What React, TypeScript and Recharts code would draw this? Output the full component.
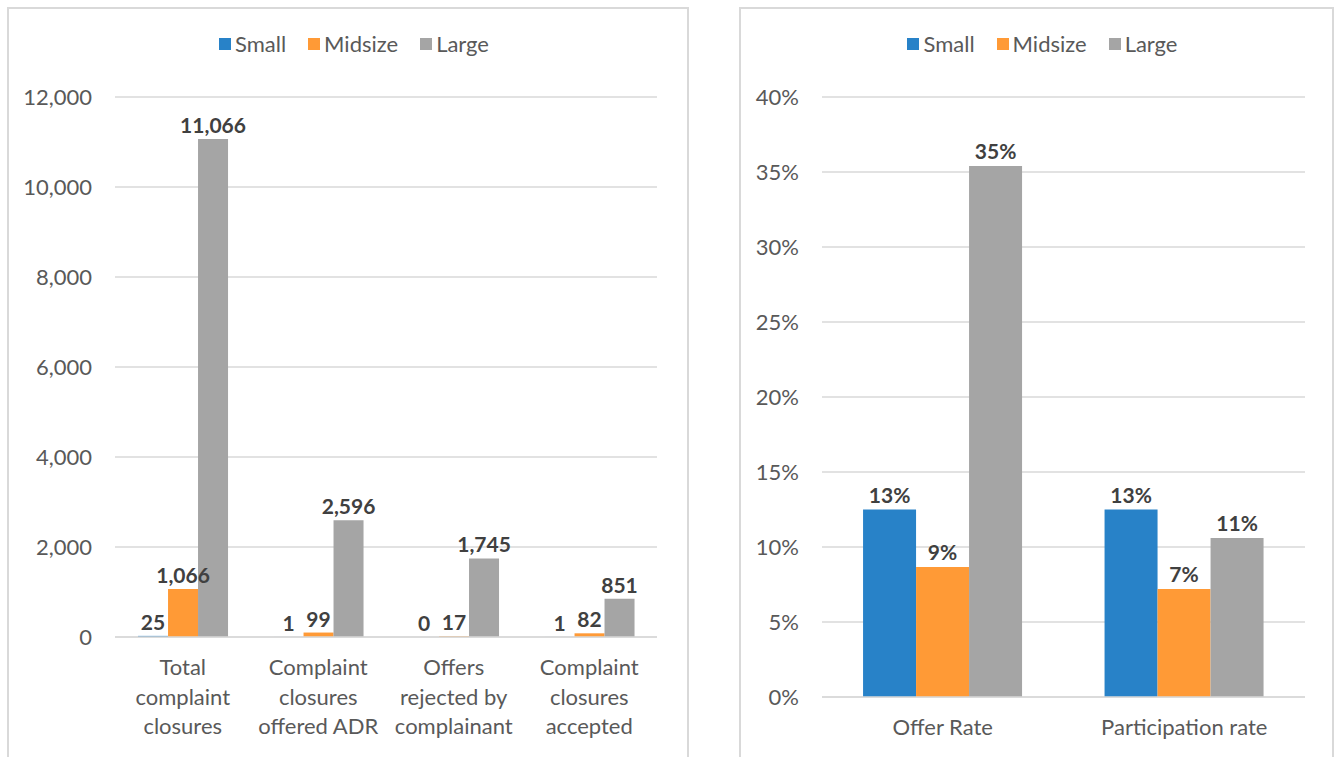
import { BarChart, Bar, XAxis, YAxis, CartesianGrid, LabelList } from 'recharts';

const closureCategories = [
  'Total\ncomplaint\nclosures',
  'Complaint\nclosures\noffered ADR',
  'Offers\nrejected by\ncomplainant',
  'Complaint\nclosures\naccepted',
];
const closureSmall = [25, 1, 0, 1];
const closureMidsize = [1066, 99, 17, 82];
const closureLarge = [11066, 2596, 1745, 851];
const closureTicks = [0, 2000, 4000, 6000, 8000, 10000, 12000];

const rateCategories = ['Offer Rate', 'Participation rate'];
const rateSmall = [12.5, 12.5];
const rateMidsize = [8.67, 7.2];
const rateLarge = [35.4, 10.6];
const rateTicks = [0, 5, 10, 15, 20, 25, 30, 35, 40];

const seriesNames = ['Small', 'Midsize', 'Large'];
const seriesColors = ['#2882c8', '#ff9a36', '#a5a5a5'];

const closureData = closureCategories.map((name, i) => ({
  name,
  small: closureSmall[i],
  midsize: closureMidsize[i],
  large: closureLarge[i],
}));

const rateData = rateCategories.map((name, i) => ({
  name,
  small: rateSmall[i],
  midsize: rateMidsize[i],
  large: rateLarge[i],
}));

const FONT = 'Lato, "Open Sans", sans-serif';
const TEXT = '#595959';
const LABEL = '#404040';
const GRID = '#d9d9d9';

// category names carry their own line breaks
const MultiLineTick = ({ x, y, payload }: any) => {
  const lines = String(payload.value).split('\n');
  return (
    <text x={x} y={y} textAnchor="middle" fill={TEXT} fontSize={22} fontFamily={FONT}>
      {lines.map((line, i) => (
        <tspan key={i} x={x} dy={i === 0 ? 30 : 29.5}>
          {line}
        </tspan>
      ))}
    </text>
  );
};

const LegendRow = () => (
  <div
    style={{
      position: 'absolute',
      top: 22,
      left: 0,
      right: 0,
      paddingLeft: 12,
      display: 'flex',
      justifyContent: 'center',
      gap: 22,
      fontFamily: FONT,
      fontSize: 22,
      color: TEXT,
      lineHeight: '26px',
    }}
  >
    {seriesNames.map((n, i) => (
      <div key={n} style={{ display: 'flex', alignItems: 'center', gap: 4 }}>
        <div style={{ width: 12, height: 12, background: seriesColors[i] }} />
        <span>{n}</span>
      </div>
    ))}
  </div>
);

const panelStyle = (left: number, width: number): React.CSSProperties => ({
  position: 'absolute',
  left,
  top: 7,
  width,
  height: 760,
  border: `2px solid ${GRID}`,
  boxSizing: 'border-box',
  background: '#fff',
});

const labelStyle = { fill: LABEL, fontSize: 21, fontWeight: 700, fontFamily: FONT };

export default function App() {
  const keys = ['small', 'midsize', 'large'];
  return (
    <div style={{ position: 'absolute', left: 0, top: 0, width: 1337, height: 757, overflow: 'hidden', background: '#fff' }}>
      <div style={panelStyle(7, 682)}>
        <LegendRow />
        <div style={{ position: 'absolute', left: -2, top: -2 }}>
          <BarChart
            width={682}
            height={752}
            data={closureData}
            margin={{ top: 90, right: 32, left: 0, bottom: 0 }}
            barCategoryGap="17%"
            barGap={0}
          >
            <CartesianGrid vertical={false} stroke={GRID} strokeWidth={1.5} />
            <XAxis
              dataKey="name"
              axisLine={{ stroke: GRID, strokeWidth: 1.5 }}
              tickLine={false}
              height={122}
              interval={0}
              tick={<MultiLineTick />}
            />
            <YAxis
              width={108}
              domain={[0, 12000]}
              ticks={closureTicks}
              axisLine={false}
              tickLine={false}
              tickMargin={17}
              tick={{ fill: TEXT, fontSize: 22, fontFamily: FONT }}
              tickFormatter={(v: number) => v.toLocaleString('en-US')}
            />
            {keys.map((k, i) => (
              <Bar
                key={k}
                dataKey={k}
                name={seriesNames[i]}
                fill={seriesColors[i]}
                minPointSize={0.01}
                isAnimationActive={false}
              >
                <LabelList
                  dataKey={k}
                  position="top"
                  offset={6}
                  style={labelStyle}
                  formatter={(v: any) => Number(v).toLocaleString('en-US')}
                />
              </Bar>
            ))}
          </BarChart>
        </div>
      </div>

      <div style={panelStyle(739, 595)}>
        <LegendRow />
        <div style={{ position: 'absolute', left: -2, top: -2 }}>
          <BarChart
            width={595}
            height={752}
            data={rateData}
            margin={{ top: 90, right: 29, left: 0, bottom: 0 }}
            barCategoryGap="17%"
            barGap={0}
          >
            <CartesianGrid vertical={false} stroke={GRID} strokeWidth={1.5} />
            <XAxis
              dataKey="name"
              axisLine={{ stroke: GRID, strokeWidth: 1.5 }}
              tickLine={false}
              height={62}
              interval={0}
              tick={<MultiLineTick />}
            />
            <YAxis
              width={83}
              domain={[0, 40]}
              ticks={rateTicks}
              axisLine={false}
              tickLine={false}
              tickMargin={17}
              tick={{ fill: TEXT, fontSize: 22, fontFamily: FONT }}
              tickFormatter={(v: number) => `${v}%`}
            />
            {keys.map((k, i) => (
              <Bar key={k} dataKey={k} name={seriesNames[i]} fill={seriesColors[i]} isAnimationActive={false}>
                <LabelList
                  dataKey={k}
                  position="top"
                  offset={7}
                  style={labelStyle}
                  formatter={(v: any) => `${Math.round(Number(v))}%`}
                />
              </Bar>
            ))}
          </BarChart>
        </div>
      </div>
    </div>
  );
}
